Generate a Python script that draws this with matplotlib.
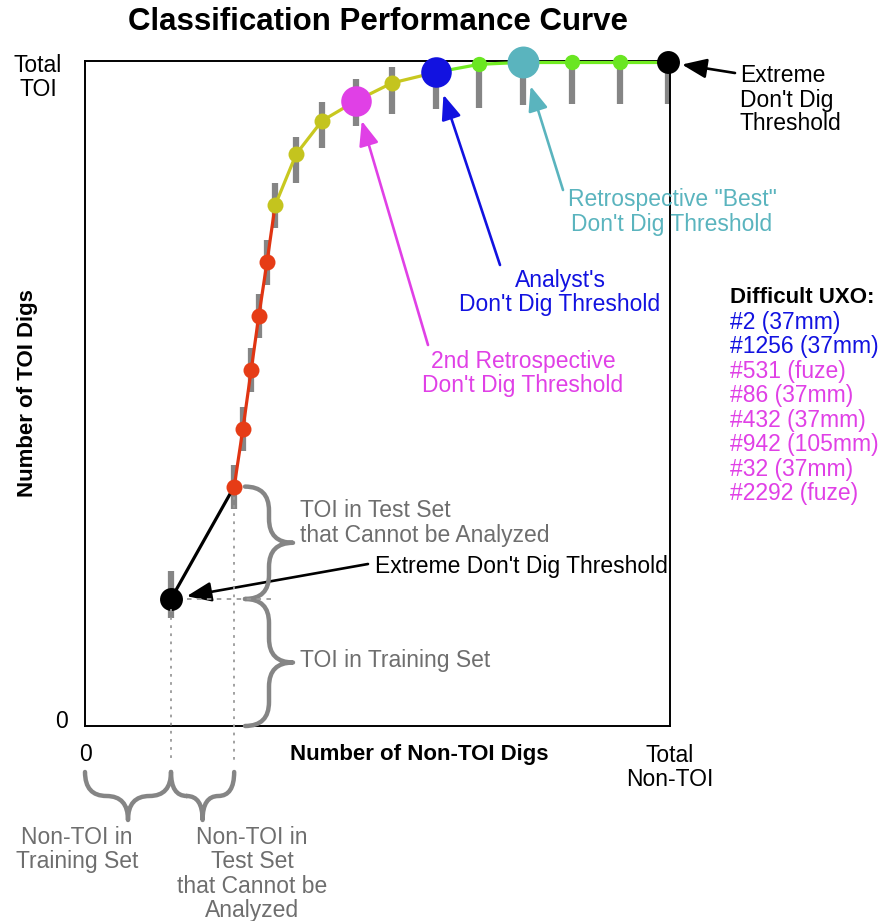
import matplotlib
matplotlib.use('Agg')
import matplotlib.pyplot as plt
from matplotlib.path import Path
from matplotlib.patches import PathPatch
import numpy as np

plt.rcParams['font.family'] = ['Liberation Sans', 'DejaVu Sans']

# ---------------- data (percent of total) ----------------
non_toi_pct = [14.7, 25.5, 27.0, 28.4, 29.7, 31.1, 32.5, 36.1, 40.5, 46.3,
               52.5, 60.0, 67.4, 74.9, 83.2, 91.5, 99.7]
toi_pct = [19.1, 36.0, 44.7, 53.5, 61.6, 69.7, 78.3, 86.0, 91.0, 94.0,
           96.7, 98.3, 99.5, 99.8, 99.8, 99.8, 99.8]
bar_low = [16.3, 32.7, 41.3, 50.2, 58.3, 66.3, 74.9, 81.6, 86.9, 90.2,
           92.0, 92.8, 92.9, 93.4, 93.5, 93.5, 93.5]
bar_high = [23.3, 39.3, 48.0, 56.8, 64.9, 73.1, 81.7, 88.6, 93.8, 97.3,
            99.1, 100, 100, 100, 100, 100, 100]
point_kind = ['extreme', 'red', 'red', 'red', 'red', 'red', 'yellow', 'yellow',
              'yellow', 'second', 'yellow', 'analyst', 'green', 'best', 'green',
              'green', 'extreme']
segment_kind = ['black'] + ['red'] * 5 + ['yellow'] * 5 + ['green'] * 5

uxo_labels = ['#2 (37mm)', '#1256 (37mm)', '#531 (fuze)', '#86 (37mm)',
              '#432 (37mm)', '#942 (105mm)', '#32 (37mm)', '#2292 (fuze)']
uxo_kind = ['analyst', 'analyst', 'second', 'second', 'second', 'second',
            'second', 'second']

# ---------------- styles ----------------
marker_color = {'extreme': '#000000', 'red': '#e63c16', 'yellow': '#c4c41e',
                'second': '#e040e6', 'analyst': '#1212e0', 'green': '#6ae622',
                'best': '#5ab4be'}
marker_size = {'extreme': 16.5, 'red': 11.5, 'yellow': 11.5, 'second': 22,
               'analyst': 22, 'green': 11, 'best': 23}
line_color = {'black': '#000000', 'red': '#e03412', 'yellow': '#c8c820',
              'green': '#72ec22'}
GRAY = '#6e6e6e'
BRACE = '#858585'

W, H = 880, 921
fig = plt.figure(figsize=(W / 100, H / 100), dpi=100)
ax = fig.add_axes([85 / W, 1 - 726 / H, 585 / W, 665 / H])
ax.set_xlim(0, 100)
ax.set_ylim(0, 100)
ax.set_xticks([])
ax.set_yticks([])
for s in ax.spines.values():
    s.set_linewidth(1.4)
    s.set_color('black')

ov = fig.add_axes([0, 0, 1, 1], zorder=3)
ov.set_xlim(0, W)
ov.set_ylim(H, 0)
ov.axis('off')
ov.patch.set_alpha(0)


def d2p(x, y):
    return ov.transData.inverted().transform(ax.transData.transform((x, y)))


# error bars
ax.vlines(non_toi_pct, bar_low, bar_high, colors='#858585', lw=4.5, zorder=2)

# curve segments
for i, k in enumerate(segment_kind):
    ax.plot(non_toi_pct[i:i + 2], toi_pct[i:i + 2], color=line_color[k], lw=2.3,
            zorder=3, clip_on=False, solid_capstyle='round')

# points
for x, y, k in zip(non_toi_pct, toi_pct, point_kind):
    ax.plot([x], [y], 'o', ms=marker_size[k], color=marker_color[k],
            markeredgewidth=0, zorder=4, clip_on=False)

# dotted guides
p0 = d2p(non_toi_pct[0], toi_pct[0])
p1 = d2p(non_toi_pct[1], toi_pct[1])
for p in (p0, p1):
    ov.plot([p[0], p[0]], [p[1] + 10, 760], color='#9a9a9a', lw=1.3,
            ls=(0, (1.5, 3)))
ov.plot([p0[0] + 16, 273], [p0[1], p0[1]], color='#9a9a9a', lw=1.3,
        ls=(0, (2.5, 3)))


def brace(A, B, n, d, color=BRACE, lw=3.2):
    A = np.array(A, float)
    B = np.array(B, float)
    n = np.array(n, float)
    t = (B - A) / np.linalg.norm(B - A)
    L = np.linalg.norm(B - A)
    M = (A + B) / 2
    h = d / 2
    r = min(h, L / 4)
    verts = [A, A + n * h, A + n * h + t * r,
             M + n * h - t * r,
             M + n * h, M + n * d,
             M + n * h, M + n * h + t * r,
             B + n * h - t * r,
             B + n * h, B]
    codes = [Path.MOVETO, Path.CURVE3, Path.CURVE3, Path.LINETO,
             Path.CURVE3, Path.CURVE3, Path.CURVE3, Path.CURVE3,
             Path.LINETO, Path.CURVE3, Path.CURVE3]
    ov.add_patch(PathPatch(Path(verts, codes), fill=False, edgecolor=color,
                           lw=lw, capstyle='round', joinstyle='round'))


# right braces (TOI)
bottom_px = d2p(0, 0)[1]
brace((245, p1[1]), (245, p0[1]), (1, 0), 48)
brace((245, p0[1]), (245, bottom_px), (1, 0), 48)
# bottom braces (Non-TOI)
left_px = d2p(0, 0)[0]
brace((left_px, 772), (p0[0], 772), (0, 1), 48)
brace((p0[0], 772), (p1[0], 772), (0, 1), 48)


def arrow(idx, tail, color, shrink):
    ax.annotate('', xy=(non_toi_pct[idx], toi_pct[idx]), xycoords='data',
                xytext=tail, textcoords=ov.transData, annotation_clip=False,
                zorder=6,
                arrowprops=dict(arrowstyle='-|>,head_length=0.75,head_width=0.3',
                                color=color, lw=1.9, shrinkA=0, shrinkB=shrink,
                                mutation_scale=20))


arrow(9, (428, 345), marker_color['second'], 15)
arrow(11, (500, 265), marker_color['analyst'], 17)
arrow(13, (563, 190), marker_color['best'], 18)
arrow(16, (735, 73), 'black', 10)
arrow(0, (368, 564), 'black', 11.5)

FS = 16.5
FSB = 16


def lines(x, ys, texts, color='black', ha='left', weight='normal', fs=FS):
    for y, t in zip(ys, texts):
        ov.text(x, y, t, color=color, ha=ha, va='center', fontsize=fs,
                fontweight=weight)


# title & axis labels
ov.text(378, 22, 'Classification Performance Curve', ha='center', va='center',
        fontsize=22.5, fontweight='bold')
ov.text(28, 393, 'Number of TOI Digs', rotation=90, ha='center', va='center',
        fontsize=FSB, fontweight='bold')
ov.text(419, 754, 'Number of Non-TOI Digs', ha='center', va='center',
        fontsize=FSB, fontweight='bold')
lines(38, [65, 89], ['Total', 'TOI'], ha='center')
lines(62, [721], ['0'], ha='center')
lines(85, [754], ['0'], ha='center')
lines(670, [755, 779], ['Total', 'Non-TOI'], ha='center')

# annotations
lines(740, [75, 100, 124], ['Extreme', "Don't Dig", 'Threshold'])
lines(672, [199, 224], ['Retrospective "Best"', "Don't Dig Threshold"],
      color=marker_color['best'], ha='center')
lines(560, [280, 304], ["Analyst's", "Don't Dig Threshold"],
      color=marker_color['analyst'], ha='center')
lines(523, [361, 385], ['2nd Retrospective', "Don't Dig Threshold"],
      color=marker_color['second'], ha='center')
lines(300, [510, 535], ['TOI in Test Set', 'that Cannot be Analyzed'], color=GRAY)
lines(375, [566], ["Extreme Don't Dig Threshold"])
lines(300, [660], ['TOI in Training Set'], color=GRAY)
lines(77, [837, 861], ['Non-TOI in', 'Training Set'], color=GRAY, ha='center')
lines(252, [837, 861, 886, 910],
      ['Non-TOI in', 'Test Set', 'that Cannot be', 'Analyzed'],
      color=GRAY, ha='center')

# difficult UXO list
lines(730, [297], ['Difficult UXO:'], weight='bold', fs=FSB)
for i, (lab, k) in enumerate(zip(uxo_labels, uxo_kind)):
    lines(730, [322 + 24.5 * i], [lab], color=marker_color[k])

fig.savefig('out.png', dpi=100)
